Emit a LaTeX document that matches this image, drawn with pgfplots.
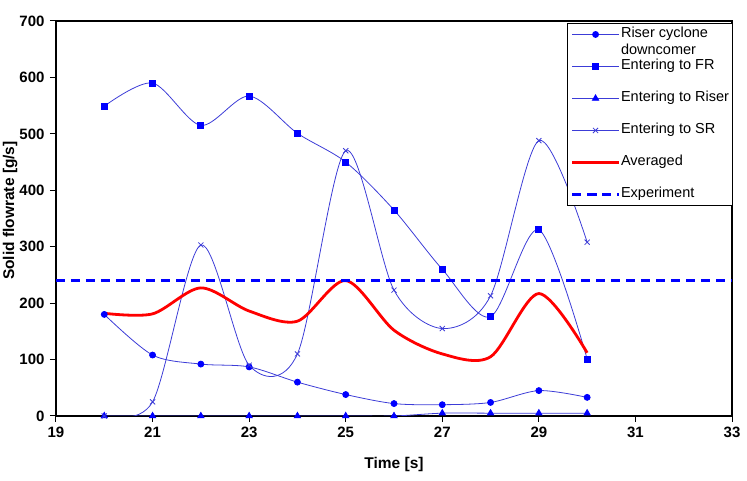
\documentclass[border=0pt]{standalone}
\usepackage{fontspec}
\setmainfont{Liberation Sans}
\usepackage{pgfplots}
\pgfplotsset{compat=1.18}
\definecolor{lblue}{RGB}{60,60,215}
\definecolor{mblue}{RGB}{0,0,255}
\definecolor{avgred}{RGB}{255,0,0}
\begin{document}
\begin{tikzpicture}
\begin{axis}[
  scale only axis,
  width=676bp, height=395bp,
  xmin=19, xmax=33, ymin=0, ymax=700,
  xtick={19,21,...,33}, ytick={0,100,...,700},
  axis line style={black, line width=1.1bp},
  tick style={black, line width=1bp},
  tick align=outside,
  major tick length=6bp,
  xtick pos=bottom, ytick pos=left,
  /pgf/number format/assume math mode=true,
  ticklabel style={font=\fontsize{15bp}{17bp}\selectfont\bfseries},
  xticklabel style={yshift=-2bp},
  yticklabel style={xshift=-2bp},
  xlabel={Time [s]}, ylabel={Solid flowrate [g/s]},
  label style={font=\fontsize{15.5bp}{17bp}\selectfont\bfseries},
  xlabel style={at={(rel axis cs:0.5,-0.124)}, anchor=center},
  ylabel style={at={(rel axis cs:-0.068,0.52)}, anchor=center},
  legend cell align=left,
  legend style={at={(rel axis cs:0.756,0.995)}, anchor=north west,
    draw=black, line width=1bp, inner xsep=3bp, inner ysep=4bp,
    font=\fontsize{14.5bp}{16.5bp}\selectfont,
    row sep=18bp,
    nodes={inner sep=0.5bp, text height=10bp, text depth=3bp}},
  legend image code/.code={\draw[mark repeat=2,mark phase=2] plot coordinates {(0bp,0bp) (23.5bp,0bp) (47bp,0bp)};},
]
\addplot[lblue, line width=0.8bp, smooth, mark=*, mark size=3bp, mark options={fill=mblue, draw=mblue, solid}]
 coordinates {(20,180) (21,108) (22,92) (23,87) (24,60) (25,38) (26,22) (27,20) (28,24) (29,45) (30,33)};
\addlegendentry{\smash{\parbox[t]{100bp}{Riser cyclone\\downcomer}}}
\addplot[lblue, line width=0.8bp, smooth, mark=square*, mark size=3bp, mark options={fill=mblue, draw=mblue, solid}]
 coordinates {(20,549) (21,590) (22,515) (23,567) (24,501) (25,450) (26,365) (27,260) (28,176) (29,330) (30,101)};
\addlegendentry{Entering to FR}
\addplot[lblue, line width=0.8bp, smooth, mark=triangle*, mark size=3.6bp, mark options={fill=mblue, draw=mblue, solid}]
 coordinates {(20,0) (21,0) (22,0) (23,0) (24,0) (25,0) (26,0) (27,5) (28,5) (29,5) (30,5)};
\addlegendentry{Entering to Riser}
\addplot[lblue, line width=0.8bp, smooth, mark=x, mark size=3.6bp, mark options={draw=lblue, solid, line width=0.8bp}]
 coordinates {(20,0) (21,25) (22,303) (23,90) (24,110) (25,470) (26,223) (27,155) (28,213) (29,488) (30,308)};
\addlegendentry{Entering to SR}
\addplot[avgred, line width=2.8bp, smooth, no markers]
 coordinates {(20,182) (21,181) (22,227) (23,186) (24,168) (25,240) (26,152) (27,110) (28,105) (29,217) (30,112)};
\addlegendentry{Averaged}
\addplot[mblue, line width=3bp, dash pattern=on 9bp off 6bp, no markers]
 coordinates {(19,240) (33,240)};
\addlegendentry{Experiment}
\end{axis}
\pgfresetboundingbox
\path ([shift={(-56bp,-65bp)}]current axis.south west) rectangle ([shift={(15bp,21bp)}]current axis.north east);
\end{tikzpicture}
\end{document}
